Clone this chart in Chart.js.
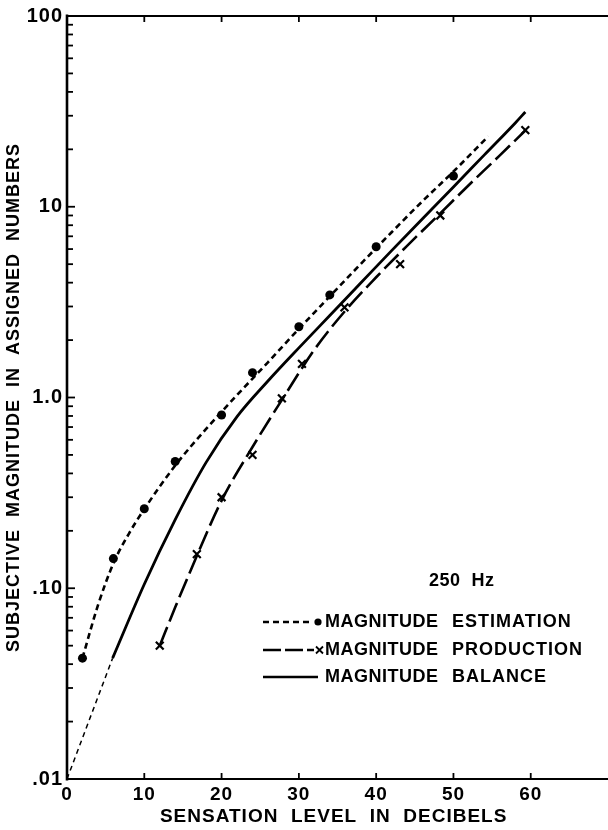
<!DOCTYPE html>
<html><head><meta charset="utf-8">
<script src="https://cdn.jsdelivr.net/npm/chart.js@4/dist/chart.umd.min.js"></script>
<style>html,body{margin:0;padding:0;background:#fff}#wrap{width:608px;height:830px;position:relative}</style>
</head><body><div id="wrap"><canvas id="c" width="608" height="830"></canvas></div>
<script>
// ---- tick values / labels ----
const xTicks=[0,10,20,30,40,50,60];
const xTickLabels=['0','10','20','30','40','50','60'];
const yMajor=[0.01,0.1,1,10,100];
const yTickLabels=['.01','.10','1.0','10','100'];
const yMinor=[];
for(let e=-2;e<2;e++){for(let m=2;m<=9;m++){yMinor.push(m*Math.pow(10,e));}}

// ---- magnitude estimation (dots + fitted short-dash curve) ----
const estDb=[2,6,10,14,20,24,30,34,40,50];
const estVal=[0.043,0.143,0.261,0.462,0.81,1.35,2.35,3.45,6.17,14.5];
const estCurveDb=[2,4,6,8,10,14,18,22,26,30,34,38,42,46,50,54.5];
const estCurveVal=[0.043,0.0813,0.135,0.193,0.26,0.44,0.684,1.03,1.53,2.29,3.39,5.01,7.35,10.7,15.3,23.4];

// ---- magnitude production (x marks + long-dash curve) ----
const prodDb=[12,16.8,20,24,27.8,30.4,35.9,43.1,48.3,59.3];
const prodVal=[0.05,0.151,0.30,0.50,0.99,1.5,2.97,5.0,9.0,25.2];
const prodCurveDb=[12,14,16,20,24,28,32,36,40,44,48,52,56,59.3];
const prodCurveVal=[0.05,0.0794,0.124,0.288,0.55,1.0,1.78,2.85,4.27,6.24,8.99,13.0,18.6,25.1];

// ---- magnitude balance (solid curve + thin dashed extrapolation) ----
const balDb=[5.9,10,14,18,22,26,30,34,38,42,46,50,54,58,59.3];
const balVal=[0.043,0.105,0.229,0.457,0.794,1.22,1.82,2.69,3.98,5.89,8.65,12.7,18.7,27.5,31.4];
const balExtDb=[0,5.9];
const balExtVal=[0.01,0.043];

// ---- texts ----
const xTitle='SENSATION  LEVEL  IN  DECIBELS';
const yTitle='SUBJECTIVE  MAGNITUDE  IN  ASSIGNED  NUMBERS';
const freqLabel='250  Hz';
const legendWord1=['MAGNITUDE','MAGNITUDE','MAGNITUDE'];
const legendWord2=['ESTIMATION','PRODUCTION','BALANCE'];

const pts=(xs,ys)=>xs.map((x,i)=>({x:x,y:ys[i]}));
const FONT="'Liberation Sans', Arial, sans-serif";

const frame={id:'frame',
 beforeDraw(chart){chart.ctx.letterSpacing='1px';},
 afterDatasetsDraw(chart){
  const {ctx,chartArea:a,scales:{x,y}}=chart;
  ctx.save();ctx.strokeStyle='#000';ctx.lineCap='butt';
  const L=(x1,y1,x2,y2)=>{ctx.beginPath();ctx.moveTo(x1,y1);ctx.lineTo(x2,y2);ctx.stroke();};
  ctx.lineWidth=2.6;L(a.left,a.top-1.5,a.left,a.bottom+1.5);
  ctx.lineWidth=2.2;L(a.left-1,a.bottom,chart.width,a.bottom);
  L(a.left-1,a.top,chart.width,a.top);
  ctx.lineWidth=1.8;
  yMajor.forEach(v=>{const p=y.getPixelForValue(v);L(a.left,p,a.left+8,p);});
  yMinor.forEach(v=>{const p=y.getPixelForValue(v);L(a.left,p,a.left+6,p);});
  xTicks.forEach(v=>{if(v===0)return;const p=x.getPixelForValue(v);L(p,a.bottom,p,a.bottom-6);L(p,a.top,p,a.top+6);});
  ctx.restore();
 },
 afterDraw(chart){
  const ctx=chart.ctx;ctx.save();
  ctx.fillStyle='#000';ctx.strokeStyle='#000';
  ctx.font="bold 18px "+FONT;ctx.textBaseline='middle';ctx.textAlign='left';
  ctx.letterSpacing='0.5px';
  ctx.fillText(freqLabel,429,581);
  const rows=[622,650,677];
  rows.forEach((ry,i)=>{
    ctx.fillText(legendWord1[i],325,ry);
    ctx.letterSpacing='1px';
    ctx.fillText(legendWord2[i],452,ry);
    ctx.letterSpacing='0.5px';
  });
  // legend samples
  ctx.lineWidth=2.6;
  ctx.setLineDash([6,4]);ctx.beginPath();ctx.moveTo(263,rows[0]);ctx.lineTo(313,rows[0]);ctx.stroke();
  ctx.setLineDash([]);ctx.beginPath();ctx.arc(318,rows[0],3.6,0,Math.PI*2);ctx.fill();
  ctx.setLineDash([18,4]);ctx.beginPath();ctx.moveTo(263,rows[1]);ctx.lineTo(314,rows[1]);ctx.stroke();
  ctx.setLineDash([]);ctx.lineWidth=1.8;
  ctx.beginPath();ctx.moveTo(316,rows[1]-3.5);ctx.lineTo(323,rows[1]+3.5);ctx.moveTo(323,rows[1]-3.5);ctx.lineTo(316,rows[1]+3.5);ctx.stroke();
  ctx.lineWidth=2.6;ctx.beginPath();ctx.moveTo(263,rows[2]);ctx.lineTo(318,rows[2]);ctx.stroke();
  ctx.restore();
 }
};

new Chart(document.getElementById('c'),{
 type:'line',
 data:{datasets:[
  {label:'est curve',data:pts(estCurveDb,estCurveVal),borderColor:'#000',borderWidth:2.6,borderDash:[6,4],pointRadius:0,cubicInterpolationMode:'monotone',fill:false},
  {label:'est points',data:pts(estDb,estVal),showLine:false,pointRadius:4.5,pointStyle:'circle',backgroundColor:'#000',borderColor:'#000',borderWidth:0},
  {label:'prod curve',data:pts(prodCurveDb,prodCurveVal),borderColor:'#000',borderWidth:2.6,borderDash:[20,6],pointRadius:0,cubicInterpolationMode:'monotone',fill:false},
  {label:'prod points',data:pts(prodDb,prodVal),showLine:false,pointRadius:5.5,pointStyle:'crossRot',borderColor:'#000',borderWidth:2.2},
  {label:'balance',data:pts(balDb,balVal),borderColor:'#000',borderWidth:2.8,pointRadius:0,cubicInterpolationMode:'monotone',fill:false},
  {label:'balance ext',data:pts(balExtDb,balExtVal),borderColor:'#000',borderWidth:1.5,borderDash:[5,4],pointRadius:0,fill:false}
 ]},
 options:{
  responsive:false,animation:false,devicePixelRatio:1,
  layout:{padding:{top:15,right:2,left:0,bottom:0}},
  plugins:{legend:{display:false},tooltip:{enabled:false}},
  scales:{
   x:{type:'linear',position:'bottom',min:0,max:69,
    afterBuildTicks:s=>{s.ticks=xTicks.map(v=>({value:v}));},
    afterFit:s=>{s.height=51;},
    grid:{display:false,drawTicks:false},border:{display:false},
    ticks:{color:'#000',font:{family:FONT,size:19,weight:'bold'},padding:4,maxRotation:0,autoSkip:false,
      callback:(v)=>{const i=xTicks.indexOf(v);return i>=0?xTickLabels[i]:'';}},
    title:{display:true,text:xTitle,color:'#000',font:{family:FONT,size:19,weight:'bold'},padding:{top:0,bottom:2}}
   },
   y:{type:'logarithmic',position:'left',min:0.01,max:100,
    afterBuildTicks:s=>{s.ticks=yMajor.map(v=>({value:v}));},
    afterFit:s=>{s.width=67;},
    grid:{display:false,drawTicks:false},border:{display:false},
    ticks:{color:'#000',font:{family:FONT,size:20,weight:'bold'},padding:4,autoSkip:false,
      callback:(v)=>{const i=yMajor.findIndex(m=>Math.abs(m-v)/m<1e-6);return i>=0?yTickLabels[i]:'';}},
    title:{display:true,text:yTitle,color:'#000',font:{family:FONT,size:18,weight:'bold'},padding:{top:3,bottom:0}}
   }
  }
 },
 plugins:[frame]
});
</script></body></html>
